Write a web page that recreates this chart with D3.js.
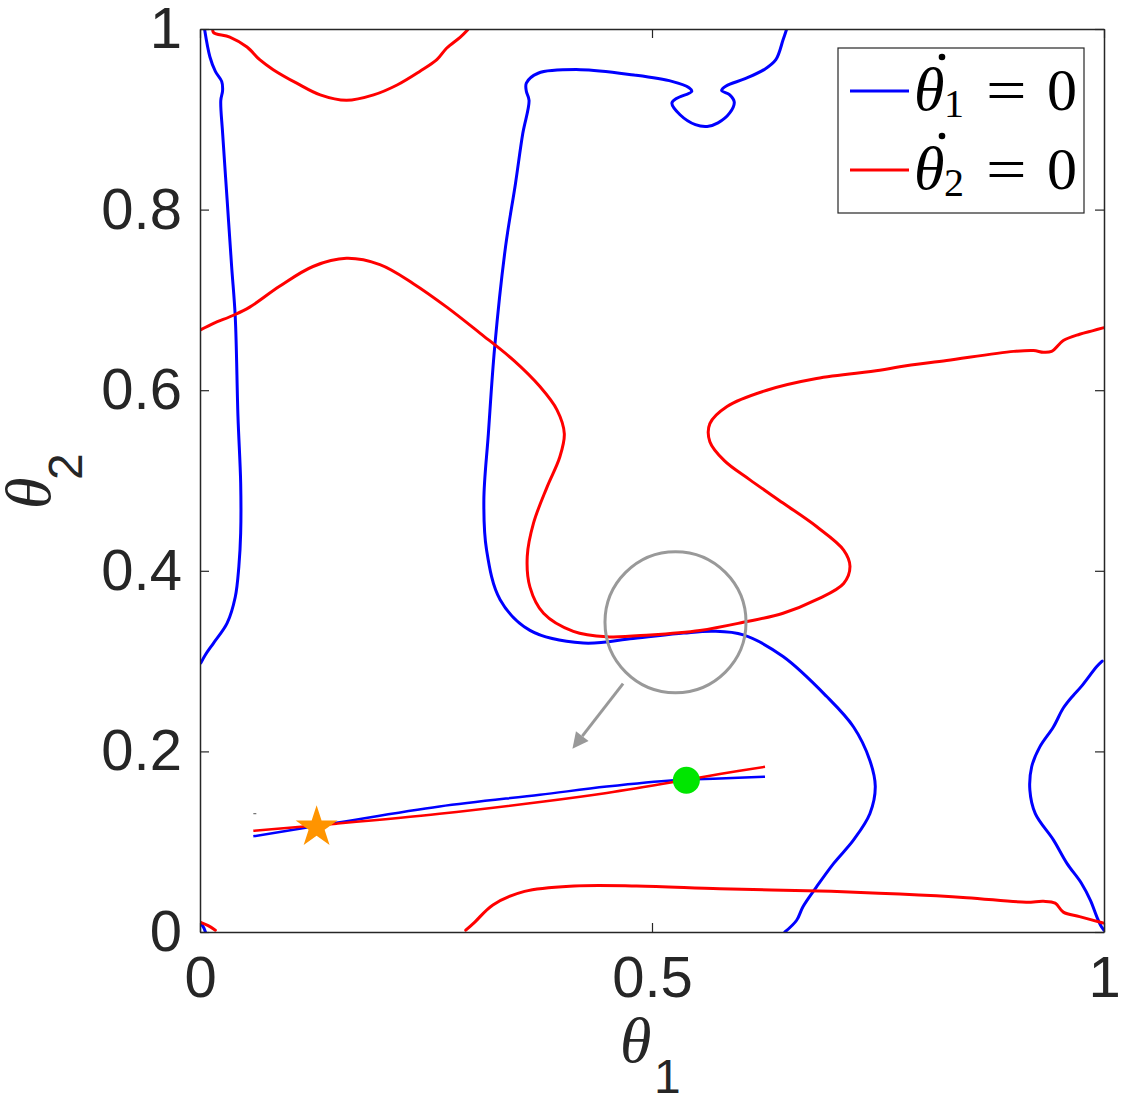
<!DOCTYPE html>
<html><head><meta charset="utf-8">
<script src="https://cdn.jsdelivr.net/npm/d3@7"></script>
<style>body{margin:0;background:#fff}</style>
</head><body>
<svg id="chart" width="1125" height="1101"></svg>
<script>
// ---------- data ----------
const xTicks = [0, 0.5, 1];
const xTickLabels = ["0", "0.5", "1"];
const yTicks = [0, 0.2, 0.4, 0.6, 0.8, 1];
const yTickLabels = ["0", "0.2", "0.4", "0.6", "0.8", "1"];

// theta1-dot = 0 nullcline pieces (blue)
const blueLeft = [[0.005,1.0],[0.011,0.969],[0.017,0.953],[0.024,0.942],[0.025,0.932],[0.023,0.921],[0.025,0.885],[0.030,0.811],[0.035,0.737],[0.039,0.681],[0.042,0.571],[0.045,0.497],[0.045,0.442],[0.043,0.405],[0.039,0.371],[0.030,0.342],[0.015,0.320],[0.006,0.307],[0.001,0.298]];
const blueMiddle = [[0.649,1.0],[0.645,0.988],[0.637,0.966],[0.624,0.955],[0.603,0.945],[0.582,0.937],[0.577,0.932],[0.586,0.927],[0.591,0.919],[0.586,0.907],[0.573,0.896],[0.561,0.892],[0.548,0.894],[0.531,0.905],[0.522,0.918],[0.527,0.923],[0.544,0.931],[0.541,0.935],[0.522,0.942],[0.480,0.949],[0.421,0.955],[0.374,0.951],[0.361,0.940],[0.361,0.931],[0.364,0.921],[0.357,0.884],[0.349,0.829],[0.338,0.759],[0.326,0.648],[0.319,0.552],[0.314,0.478],[0.317,0.423],[0.332,0.368],[0.365,0.334],[0.424,0.320],[0.479,0.325],[0.535,0.331],[0.568,0.333],[0.601,0.329],[0.645,0.305],[0.693,0.261],[0.723,0.227],[0.741,0.190],[0.747,0.161],[0.741,0.131],[0.723,0.102],[0.701,0.076],[0.682,0.050],[0.667,0.028],[0.660,0.013],[0.647,0.0]];
const blueRight = [[0.998,0.300],[0.992,0.294],[0.975,0.272],[0.966,0.262],[0.955,0.248],[0.944,0.227],[0.929,0.205],[0.920,0.183],[0.918,0.157],[0.924,0.131],[0.944,0.102],[0.959,0.076],[0.975,0.054],[0.985,0.035],[0.992,0.017],[0.997,0.006],[1.0,0.002]];
const blueCorner = [[0.0,0.011],[0.004,0.005],[0.006,0.0]];

// theta2-dot = 0 nullcline pieces (red)
const redTop = [[0.014,1.0],[0.015,0.996],[0.033,0.991],[0.052,0.980],[0.066,0.966],[0.081,0.955],[0.107,0.940],[0.133,0.927],[0.162,0.921],[0.192,0.927],[0.218,0.938],[0.243,0.953],[0.262,0.966],[0.273,0.979],[0.288,0.991],[0.296,0.999]];
const redMain = [[0.001,0.667],[0.015,0.674],[0.037,0.683],[0.055,0.692],[0.088,0.715],[0.125,0.737],[0.162,0.746],[0.199,0.739],[0.236,0.718],[0.273,0.692],[0.310,0.663],[0.347,0.633],[0.376,0.604],[0.395,0.578],[0.403,0.552],[0.398,0.526],[0.384,0.493],[0.369,0.453],[0.362,0.416],[0.365,0.382],[0.380,0.353],[0.413,0.333],[0.450,0.327],[0.498,0.329],[0.553,0.334],[0.601,0.343],[0.645,0.353],[0.682,0.368],[0.712,0.386],[0.719,0.405],[0.712,0.423],[0.682,0.449],[0.645,0.475],[0.608,0.501],[0.580,0.522],[0.564,0.543],[0.564,0.563],[0.583,0.582],[0.627,0.600],[0.682,0.613],[0.752,0.622],[0.774,0.626],[0.826,0.633],[0.900,0.643],[0.922,0.644],[0.933,0.642],[0.942,0.643],[0.955,0.655],[0.973,0.662],[0.988,0.666],[0.999,0.669]];
const redBottom = [[0.294,0.002],[0.304,0.011],[0.324,0.030],[0.359,0.045],[0.414,0.051],[0.483,0.051],[0.575,0.048],[0.698,0.045],[0.774,0.042],[0.848,0.038],[0.914,0.033],[0.933,0.034],[0.946,0.032],[0.955,0.022],[0.973,0.017],[0.999,0.010]];
const redCorner = [[0.0,0.011],[0.009,0.007],[0.017,0.002]];

// zoomed-in inset trajectories
const blueZoom = [[0.059,0.106],[0.151,0.121],[0.265,0.139],[0.376,0.152],[0.450,0.161],[0.524,0.168],[0.575,0.170],[0.625,0.172]];
const redZoom  = [[0.059,0.112],[0.151,0.120],[0.265,0.131],[0.376,0.144],[0.450,0.154],[0.524,0.166],[0.575,0.175],[0.625,0.183]];
const starPoint = [0.129, 0.116];
const dotPoint  = [0.538, 0.168];
const dashPoint = [0.059, 0.131];
const zoomCircle = {cx: 0.526, cy: 0.343, r: 0.078};
const arrowFrom = [0.468, 0.275];
const arrowTo   = [0.412, 0.203];

const legendItems = [{sub: "1", color: "#0000ff"}, {sub: "2", color: "#ff0000"}];

// ---------- layout ----------
const svg = d3.select("#chart");
const L = 200, T = 29, R = 1104, B = 932;
const x = d3.scaleLinear().domain([0, 1]).range([L, R]);
const y = d3.scaleLinear().domain([0, 1]).range([B, T]);
const ink = "#262626";
const tickFont = "'Liberation Sans', Arial, Helvetica, sans-serif";

svg.append("rect").attr("width", 1125).attr("height", 1101).attr("fill", "#fff");

svg.append("defs").append("clipPath").attr("id", "plotClip")
  .append("rect").attr("x", L).attr("y", T).attr("width", R - L).attr("height", B - T);

const plot = svg.append("g").attr("clip-path", "url(#plotClip)");
const line = d3.line().x(d => x(d[0])).y(d => y(d[1])).curve(d3.curveCatmullRom.alpha(0.5));

[blueLeft, blueMiddle, blueRight, blueCorner].forEach(c =>
  plot.append("path").attr("d", line(c)).attr("fill", "none").attr("stroke", "#0000ff")
    .attr("stroke-width", 3).attr("stroke-linejoin", "round").attr("stroke-linecap", "round"));
[redTop, redMain, redBottom, redCorner].forEach(c =>
  plot.append("path").attr("d", line(c)).attr("fill", "none").attr("stroke", "#ff0000")
    .attr("stroke-width", 3).attr("stroke-linejoin", "round").attr("stroke-linecap", "round"));

// gray zoom circle
plot.append("ellipse").attr("cx", x(zoomCircle.cx)).attr("cy", y(zoomCircle.cy))
  .attr("rx", x(zoomCircle.r) - x(0)).attr("ry", x(zoomCircle.r) - x(0))
  .attr("fill", "none").attr("stroke", "#999999").attr("stroke-width", 3);

// arrow
const ax0 = x(arrowFrom[0]), ay0 = y(arrowFrom[1]), ax1 = x(arrowTo[0]), ay1 = y(arrowTo[1]);
const ang = Math.atan2(ay1 - ay0, ax1 - ax0);
const headLen = 16, headHalf = 8;
const bx = ax1 - headLen * Math.cos(ang), by = ay1 - headLen * Math.sin(ang);
plot.append("line").attr("x1", ax0).attr("y1", ay0).attr("x2", bx).attr("y2", by)
  .attr("stroke", "#999999").attr("stroke-width", 3);
plot.append("path").attr("d", d3.line()([
  [ax1, ay1],
  [bx + headHalf * Math.sin(ang), by - headHalf * Math.cos(ang)],
  [bx - headHalf * Math.sin(ang), by + headHalf * Math.cos(ang)]
]) + "Z").attr("fill", "#999999");

// inset trajectories
plot.append("path").attr("d", line(blueZoom)).attr("fill", "none").attr("stroke", "#0000ff").attr("stroke-width", 2.5);
plot.append("path").attr("d", line(redZoom)).attr("fill", "none").attr("stroke", "#ff0000").attr("stroke-width", 2.5);
plot.append("line").attr("x1", x(dashPoint[0])).attr("x2", x(dashPoint[0]) + 3)
  .attr("y1", y(dashPoint[1])).attr("y2", y(dashPoint[1])).attr("stroke", "#555").attr("stroke-width", 1);

plot.append("path").attr("d", d3.symbol(d3.symbolStar, 545)())
  .attr("transform", `translate(${x(starPoint[0])},${y(starPoint[1])})`).attr("fill", "#ff9400");
plot.append("circle").attr("cx", x(dotPoint[0])).attr("cy", y(dotPoint[1])).attr("r", 13.5).attr("fill", "#00e600");

// ---------- axes ----------
function styleAxis(g) {
  g.select(".domain").attr("stroke", ink).attr("stroke-width", 1.5);
  g.selectAll(".tick line").attr("stroke", ink).attr("stroke-width", 1.2);
  g.selectAll(".tick text").attr("fill", ink).attr("font-family", tickFont).attr("font-size", 58);
}
svg.append("g").attr("transform", `translate(0,${B})`)
  .call(d3.axisBottom(x).tickValues(xTicks).tickFormat((d, i) => xTickLabels[i]).tickSizeInner(-9).tickSizeOuter(0).tickPadding(24))
  .call(styleAxis);
svg.append("g").attr("transform", `translate(0,${T})`)
  .call(d3.axisTop(x).tickValues(xTicks).tickFormat("").tickSizeInner(-9).tickSizeOuter(0))
  .call(styleAxis);
svg.append("g").attr("transform", `translate(${L},0)`)
  .call(d3.axisLeft(y).tickValues(yTicks).tickFormat((d, i) => yTickLabels[i]).tickSizeInner(-9).tickSizeOuter(0).tickPadding(18))
  .call(styleAxis);
svg.append("g").attr("transform", `translate(${R},0)`)
  .call(d3.axisRight(y).tickValues(yTicks).tickFormat("").tickSizeInner(-9).tickSizeOuter(0))
  .call(styleAxis);

// axis titles
const serif = "'Liberation Serif', 'Times New Roman', serif";
const xl = svg.append("g").attr("transform", "translate(620,1062)");
xl.append("text").text("θ").attr("font-family", serif).attr("font-style", "italic").attr("font-size", 64).attr("fill", ink);
xl.append("text").text("1").attr("x", 34).attr("y", 31).attr("font-family", tickFont).attr("font-size", 48).attr("fill", ink);

const yl = svg.append("g").attr("transform", "translate(50,509) rotate(-90)");
yl.append("text").text("θ").attr("font-family", serif).attr("font-style", "italic").attr("font-size", 64).attr("fill", ink);
yl.append("text").text("2").attr("x", 29).attr("y", 32).attr("font-family", tickFont).attr("font-size", 48).attr("fill", ink);

// ---------- legend ----------
const lg = svg.append("g").attr("transform", "translate(838,48)");
lg.append("rect").attr("width", 246).attr("height", 165).attr("fill", "#fff").attr("stroke", ink).attr("stroke-width", 1.2);
legendItems.forEach((d, i) => {
  const g = lg.append("g").attr("transform", `translate(0,${43 + i * 79})`);
  g.append("line").attr("x1", 12).attr("x2", 71).attr("stroke", d.color).attr("stroke-width", 3);
  g.append("text").text("θ").attr("x", 76).attr("y", 19).attr("font-family", serif).attr("font-style", "italic").attr("font-size", 62).attr("fill", "#000");
  g.append("circle").attr("cx", 104).attr("cy", -34).attr("r", 3.3).attr("fill", "#000");
  g.append("text").text(d.sub).attr("x", 106).attr("y", 26).attr("font-family", serif).attr("font-size", 40).attr("fill", "#000");
  g.append("text").text("=").attr("x", 148).attr("y", 19).attr("font-family", serif).attr("font-size", 60)
    .attr("fill", "#000").attr("transform", "translate(148,0) scale(1.2,1) translate(-148,0)");
  g.append("text").text("0").attr("x", 209).attr("y", 19).attr("font-family", serif).attr("font-size", 60).attr("fill", "#000");
});
</script>
</body></html>
